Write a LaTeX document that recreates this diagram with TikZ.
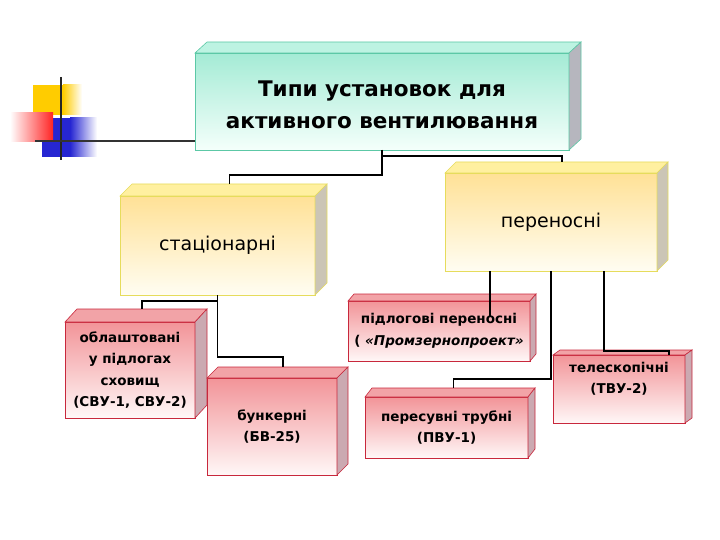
\documentclass[tikz,border=0pt]{standalone}
\usepackage{fontspec}
\setmainfont{DejaVu Sans}
\usetikzlibrary{calc}

\definecolor{mintTop}{HTML}{A4EBD5}
\definecolor{mintBot}{HTML}{F4FFFB}
\definecolor{mintEdge}{HTML}{5CC8A6}
\definecolor{mintLid}{HTML}{BDF3E2}
\definecolor{mintSide}{HTML}{B6B6BE}
\definecolor{sunTop}{HTML}{FFE196}
\definecolor{sunBot}{HTML}{FFFDF2}
\definecolor{sunEdge}{HTML}{E6DC5C}
\definecolor{sunLid}{HTML}{FFF0A0}
\definecolor{sunSide}{HTML}{CBC5B6}
\definecolor{roseTop}{HTML}{F29498}
\definecolor{roseBot}{HTML}{FFF7F7}
\definecolor{roseEdge}{HTML}{C8283C}
\definecolor{roseLid}{HTML}{F2A3A7}
\definecolor{roseSide}{HTML}{CBA9B1}
\definecolor{ornYellow}{HTML}{FFCC00}
\definecolor{ornRed}{HTML}{FF2424}
\definecolor{ornBlue}{HTML}{2626D2}

% lid and side of a box: node, depth x, depth y, colour family
\newcommand{\slab}[4]{%
  \filldraw[fill=#4Lid, draw=#4Edge, line width=0.6pt]
    (#1.north west) -- ++(#2,-#3) -- ([xshift=#2pt,yshift=#3pt]#1.north east) -- (#1.north east) -- cycle;
  \filldraw[fill=#4Side, draw=#4Edge, line width=0.6pt]
    (#1.north east) -- ([xshift=#2pt,yshift=#3pt]#1.north east) -- ([xshift=#2pt,yshift=#3pt]#1.south east) -- (#1.south east) -- cycle;
  \coordinate (#1-top) at ([xshift=#2pt,yshift=#3pt]#1.north);
}

\begin{document}
\begin{tikzpicture}[x=1pt, y=-1pt,
    front/.style={draw=#1Edge, top color=#1Top, bottom color=#1Bot, line width=0.8pt,
                  inner sep=0pt, outer sep=0pt, align=center},
    headtext/.style={font=\fontsize{21.5}{32}\selectfont\bfseries},
    kindtext/.style={font=\fontsize{19}{22}\selectfont},
    itemtext/.style={font=\fontsize{13.5}{21.5}\selectfont\bfseries},
    link/.style={line width=1.6pt, black}]
    \useasboundingbox (0,0) rectangle (720,540);

    % Corner ornament
    \fill[ornYellow] (33,85) rectangle (63,115);
    \shade[left color=ornYellow, right color=white] (63,85) rectangle (82,115);
    \fill[ornBlue] (53,118) rectangle (70,142);
    \fill[ornBlue] (42,142) rectangle (70,157);
    \shade[left color=ornBlue, right color=white] (70,118) rectangle (97,157);
    \shade[left color=white, right color=ornRed] (10,113) rectangle (53,142);
    \draw[line width=2.4pt, black!85] (61,77) -- (61,160);

    % Title
    \node[front=mint, minimum width=374, minimum height=97, headtext, text height=54] (title) at (382,101.5)
        {Типи установок для\\активного вентилювання};
    \slab{title}{12}{11}{mint}
    \coordinate (orn) at (35,141);
    \draw[line width=2.2pt, black!80] (orn) -- (orn -| title.west);

    % Stationary
    \node[front=sun, minimum width=195, minimum height=99, kindtext] (stat) at (217.5,245.5) {стаціонарні};
    \slab{stat}{12}{12}{sun}
    % Portable
    \node[front=sun, minimum width=212, minimum height=98, kindtext] (port) at (551,222) {переносні};
    \slab{port}{11}{11}{sun}

    % Stationary kinds
    \node[front=rose, minimum width=130, minimum height=96, itemtext] (store) at (130,370)
        {облаштовані\\у підлогах\\сховищ\\(СВУ-1, СВУ-2)};
    \slab{store}{12}{13}{rose}
    \node[front=rose, minimum width=130, minimum height=97, itemtext] (bunk) at (272,426.5)
        {бункерні\\(БВ-25)};
    \slab{bunk}{11}{11}{rose}

    % Portable kinds
    \node[front=rose, minimum width=182, minimum height=60, itemtext] (floor) at (439,331)
        {підлогові переносні\\( \textit{«Промзернопроект»}};
    \slab{floor}{6}{7}{rose}
    \node[front=rose, minimum width=132, minimum height=68, itemtext, text depth=22] (tele) at (619,389)
        {телескопічні\\(ТВУ-2)};
    \slab{tele}{7}{5}{rose}
    \node[front=rose, minimum width=163, minimum height=61, itemtext] (tube) at (446.5,427.5)
        {пересувні трубні\\(ПВУ-1)};
    \slab{tube}{7}{9}{rose}

    % Links
    \draw[link] (title.south) -- ++(0,25) -| (stat-top);
    \draw[link] (title.south) -- ++(0,6) -| (port-top);
    \draw[link] (stat.south) -- ++(0,6) -| (store-top);
    \draw[link] (stat.south) -- ++(0,62) -| (bunk-top);
    \coordinate (floor-in) at ([xshift=51pt,yshift=14pt]floor.center);
    \draw[link] (port.south -| floor-in) -- (floor-in);
    \draw[link] (port.south) -- ++(0,108) -| (tube-top);
    \draw[link] ([xshift=53pt]port.south) -- ++(0,80) -| ([xshift=50pt]tele.north);

\end{tikzpicture}
\end{document}
